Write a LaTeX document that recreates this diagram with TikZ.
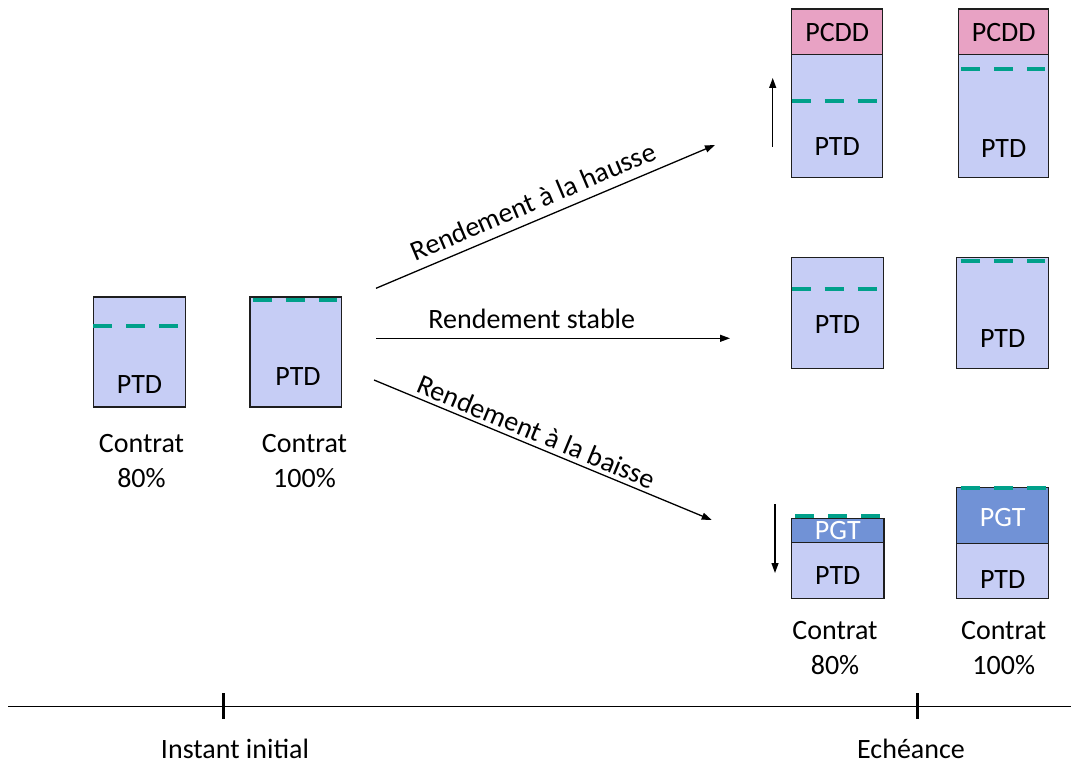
\documentclass[tikz,border=0pt]{standalone}
\usepackage{fontspec}
\setmainfont{Carlito}
\usetikzlibrary{arrows.meta}
\definecolor{ptdfill}{RGB}{198,205,245}
\definecolor{pcddfill}{RGB}{232,162,196}
\definecolor{pgtfill}{RGB}{113,146,214}
\definecolor{levelcol}{RGB}{0,160,138}
\definecolor{edge}{RGB}{30,30,30}
\begin{document}
\begin{tikzpicture}[x=1pt,y=-1pt,
  box/.style={draw=edge, line width=1.4pt, inner sep=0pt, outer sep=0pt, anchor=north west},
  ptd/.style={box, fill=ptdfill},
  pcdd/.style={box, fill=pcddfill},
  pgt/.style={box, fill=pgtfill},
  txt/.style={font=\fontsize{28}{35}\selectfont, inner sep=0pt, align=center},
  level/.style={draw=levelcol, line width=4pt, dash pattern=on 19pt off 14pt},
  flow/.style={-{Triangle[length=10pt,width=7pt]}, line width=1.3pt},
  axis/.style={line width=1pt},
  tick/.style={line width=3pt}]
\useasboundingbox (0,0) rectangle (1071,765);

% ---- initial contracts ----
\node[ptd, minimum width=92pt, minimum height=110pt] (b80) at (93.3,296.8) {};
\draw[level] (93.3,326) -- (178,326);
\node[txt] (t80) at (139.5,385) {PTD};
\node[txt] (c80) at (141.5,461.5) {Contrat\\80\%};

\node[ptd, minimum width=91.7pt, minimum height=110pt] (b100) at (250,296.8) {};
\draw[level] (252.7,300) -- (337,300);
\node[txt] (t100) at (298,376.5) {PTD};
\node[txt] (c100) at (304.5,461.5) {Contrat\\100\%};

% ---- scenario arrows ----
\coordinate (hs) at (376,288.3);
\coordinate (he) at (715,145);
\coordinate (ss) at (376,338.3);
\coordinate (se) at (730,338.3);
\coordinate (bs) at (374,380);
\coordinate (be) at (711.7,520);
\draw[flow] (hs) -- node[txt, sloped, above=8.5pt, pos=0.485] (lh) {Rendement à la hausse} (he);
\draw[flow] (ss) -- node[txt, above=9pt, pos=0.44] (ls) {Rendement stable} (se);
\draw[flow] (bs) -- node[txt, sloped, above=4pt, pos=0.465] (lb) {Rendement à la baisse} (be);

% ---- rising yield ----
\node[pcdd, minimum width=91pt, minimum height=45.3pt] (ua) at (791.7,9) {};
\node[ptd, minimum width=91pt, minimum height=123.4pt] (pa) at (791.7,54.3) {};
\draw[level] (791.7,100.7) -- (877,100.7);
\node[txt] (uat) at (837.2,33) {PCDD};
\node[txt] (pat) at (837.2,146.7) {PTD};
\coordinate (ups) at (772.7,146.7);
\coordinate (upe) at (772.7,78);
\draw[flow] (ups) -- (upe);

\node[pcdd, minimum width=90pt, minimum height=45.3pt] (ub) at (958.7,9) {};
\node[ptd, minimum width=90pt, minimum height=123.4pt] (pb) at (958.7,54.3) {};
\draw[level] (961,68.7) -- (1045,68.7);
\node[txt] (ubt) at (1003.7,33) {PCDD};
\node[txt] (pbt) at (1003.7,148.3) {PTD};

% ---- stable yield ----
\node[ptd, minimum width=91.6pt, minimum height=110.6pt] (sa) at (791.7,257.7) {};
\draw[level] (791.7,289) -- (877,289);
\node[txt] (sat) at (837.5,325) {PTD};

\node[ptd, minimum width=92pt, minimum height=110.6pt] (sb) at (956.7,257.7) {};
\draw[level] (961,260.5) -- (1045,260.5);
\node[txt] (sbt) at (1002.7,338.3) {PTD};

% ---- falling yield ----
\node[ptd, minimum width=92.3pt, minimum height=56pt] (da) at (791.7,542.3) {};
\node[pgt, minimum width=92.3pt, minimum height=24pt] (ga) at (791.7,518.3) {};
\draw[level] (795,515.5) -- (880,515.5);
\node[txt, text=white] (gat) at (837.8,530.5) {PGT};
\node[txt] (dat) at (837.8,575.7) {PTD};
\node[txt] (cda) at (835,648) {Contrat\\80\%};
\coordinate (dns) at (775,504);
\coordinate (dne) at (775,573);
\draw[flow] (dns) -- (dne);

\node[ptd, minimum width=92pt, minimum height=55pt] (db) at (956.7,543.3) {};
\node[pgt, minimum width=92pt, minimum height=55.6pt] (gb) at (956.7,487.7) {};
\draw[level] (961,487.7) -- (1046,487.7);
\node[txt, text=white] (gbt) at (1002.7,517.3) {PGT};
\node[txt] (dbt) at (1002.7,579.3) {PTD};
\node[txt] (cdb) at (1003.7,648) {Contrat\\100\%};

% ---- time axis ----
\coordinate (al) at (8,706);
\coordinate (ar) at (1071,706);
\draw[axis] (al) -- (ar);
\draw[tick] (223,693) -- (223,719);
\draw[tick] (917,693) -- (917,719);
\node[txt] (t0) at (235,749) {Instant initial};
\node[txt] (t1) at (911,749) {Echéance};
\end{tikzpicture}
\end{document}
